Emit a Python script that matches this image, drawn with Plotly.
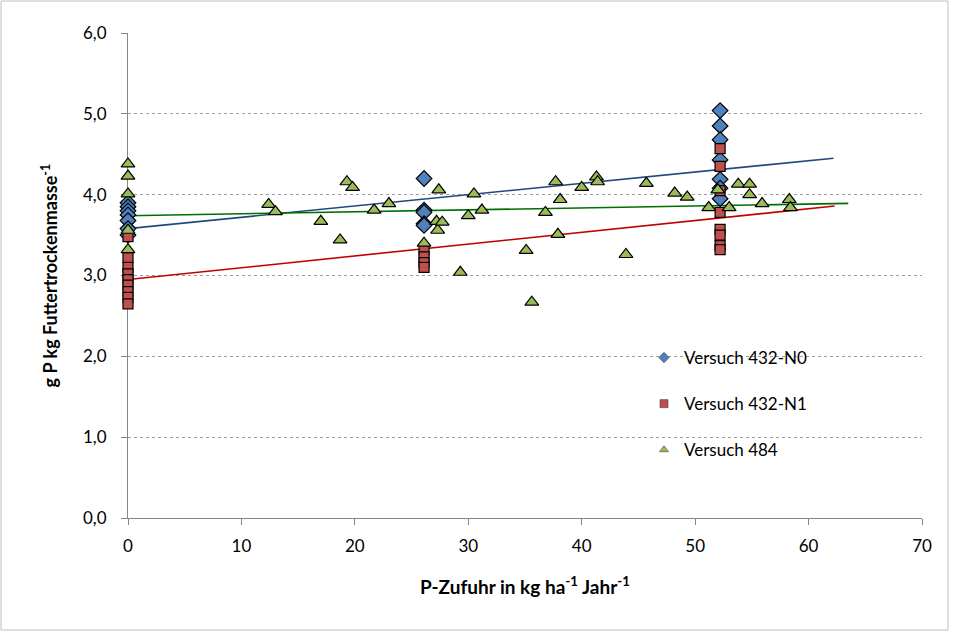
import plotly.graph_objects as go

# ---- data ----
n0_x = [0, 0, 0, 0, 0, 0, 0,
        26.1, 26.1, 26.1, 26.1, 26.1,
        52.2, 52.2, 52.2, 52.2, 52.2, 52.2, 52.2]
n0_y = [3.90, 3.85, 3.80, 3.75, 3.68, 3.58, 3.50,
        4.20, 3.81, 3.78, 3.64, 3.62,
        5.04, 4.85, 4.68, 4.43, 4.19, 4.08, 3.95]

n1_x = [0, 0, 0, 0, 0, 0, 0, 0, 0,
        26.1, 26.1, 26.1, 26.1,
        52.2, 52.2, 52.2, 52.2, 52.2, 52.2, 52.2, 52.2]
n1_y = [3.48, 3.22, 3.10, 3.02, 2.95, 2.88, 2.80, 2.73, 2.65,
        3.32, 3.23, 3.16, 3.10,
        4.57, 4.35, 4.05, 3.78, 3.57, 3.50, 3.37, 3.32]

v484_x = [0, 0, 0, 0, 0,
          12.4, 13.0, 17.0, 18.7, 19.3, 19.8, 21.7, 23.0,
          26.1, 27.2, 27.3, 27.4, 27.7, 29.3, 30.0, 30.5, 31.2,
          35.1, 35.6, 36.8, 37.7, 37.9, 38.1, 40.0, 41.3, 41.4, 43.9, 45.7, 48.2, 49.3,
          51.2, 52.0, 53.0, 53.8, 54.8, 54.8, 55.9, 58.3, 58.4]
v484_y = [4.38, 4.23, 4.01, 3.56, 3.32,
          3.88, 3.79, 3.67, 3.44, 4.16, 4.09, 3.81, 3.89,
          3.40, 3.67, 3.56, 4.06, 3.66, 3.04, 3.74, 4.01, 3.81,
          3.31, 2.67, 3.78, 4.16, 3.51, 3.94, 4.09, 4.22, 4.16, 3.26, 4.14, 4.02, 3.97,
          3.84, 4.06, 3.84, 4.13, 4.13, 4.00, 3.89, 3.94, 3.84]

series_names = ["Versuch 432-N0", "Versuch 432-N1", "Versuch 484"]
# linear trend lines as shown in the reference (intercept, slope, last x)
trend_intercept = [3.58, 2.95, 3.74]
trend_slope = [0.0140, 0.0146, 0.0024]
trend_end = [62.2, 62.3, 63.5]
y_ticks = [0, 1, 2, 3, 4, 5, 6]
x_ticks = [0, 10, 20, 30, 40, 50, 60, 70]

# ---- styles ----
marker_colors = ["#4F81BD", "#C0504D", "#9BBB59"]
marker_symbols = ["diamond", "square", "triangle-up"]
marker_sizes = [12, 10, 12]
line_colors = ["#1F497D", "#C00000", "#007000"]

xs = [n0_x, n1_x, v484_x]
ys = [n0_y, n1_y, v484_y]

FONT = "Lato, Calibri, 'Open Sans', sans-serif"

fig = go.Figure()

# trend lines drawn under the markers
for i in range(3):
    lx = [0.0, trend_end[i]]
    fig.add_trace(go.Scatter(
        x=lx, y=[trend_intercept[i] + trend_slope[i] * v for v in lx], mode="lines",
        line=dict(color=line_colors[i], width=1.6),
        showlegend=False, hoverinfo="skip"))

for i in range(3):
    fig.add_trace(go.Scatter(
        x=xs[i], y=ys[i], mode="markers", name=series_names[i],
        legendgroup=series_names[i], showlegend=False, cliponaxis=False,
        marker=dict(symbol=marker_symbols[i], size=marker_sizes[i],
                    color=marker_colors[i],
                    line=dict(color="#000000", width=1.2))))

# legend entries with small symbols, as in the reference
for i in range(3):
    fig.add_trace(go.Scatter(
        x=[None], y=[None], mode="markers", name=series_names[i],
        legendgroup=series_names[i],
        marker=dict(symbol=marker_symbols[i], size=8, color=marker_colors[i],
                    line=dict(color="#3a3a3a", width=0.6))))

L, R, T, B = 128, 31, 33, 115
W, H = 953, 633
pw, ph = W - L - R, H - T - B

fig.update_layout(
    width=W, height=H,
    margin=dict(l=L, r=R, t=T, b=B),
    paper_bgcolor="white", plot_bgcolor="white",
    separators=",.",
    font=dict(family=FONT, size=17, color="#000000"),
    showlegend=True,
    legend=dict(x=(644 - L) / pw, y=1 - (340 - T) / ph, xanchor="left", yanchor="top",
                font=dict(size=17), tracegroupgap=21, itemsizing="trace",
                itemwidth=30, bgcolor="rgba(0,0,0,0)"),
    xaxis=dict(range=[0, 70], tickvals=x_ticks, showgrid=False, zeroline=False,
               showline=True, linecolor="#868686", linewidth=1,
               ticks="outside", ticklen=6, tickcolor="#868686",
               ticklabelstandoff=7, layer="below traces",
               tickfont=dict(size=17),
               title=dict(text="<b>P-Zufuhr in kg ha<sup>-1</sup> Jahr<sup>-1</sup></b>",
                          font=dict(size=19, family=FONT), standoff=25)),
    yaxis=dict(range=[0, 6], tickvals=y_ticks, tickformat=".1f",
               showgrid=True, gridcolor="#A0A0A0", griddash="dot", gridwidth=1,
               zeroline=False, showline=True, linecolor="#868686", linewidth=1,
               ticks="outside", ticklen=6, tickcolor="#868686",
               ticklabelstandoff=11, layer="below traces",
               tickfont=dict(size=17),
               title=dict(text="<b>g P kg Futtertrockenmasse<sup>-1</sup></b>",
                          font=dict(size=18, family=FONT), standoff=20)),
)

# outer chart border
fig.add_shape(type="rect", xref="paper", yref="paper",
              x0=(1 - L) / pw, x1=(W - 5 - L) / pw,
              y0=-(H - 3 - T - ph) / ph, y1=1 + (T - 1) / ph,
              line=dict(color="#BFBFBF", width=1), fillcolor="rgba(0,0,0,0)",
              layer="below")

fig.write_html("out.html", config={"displayModeBar": False},
               post_script="document.body.style.margin='0px';document.body.style.overflow='hidden';")
